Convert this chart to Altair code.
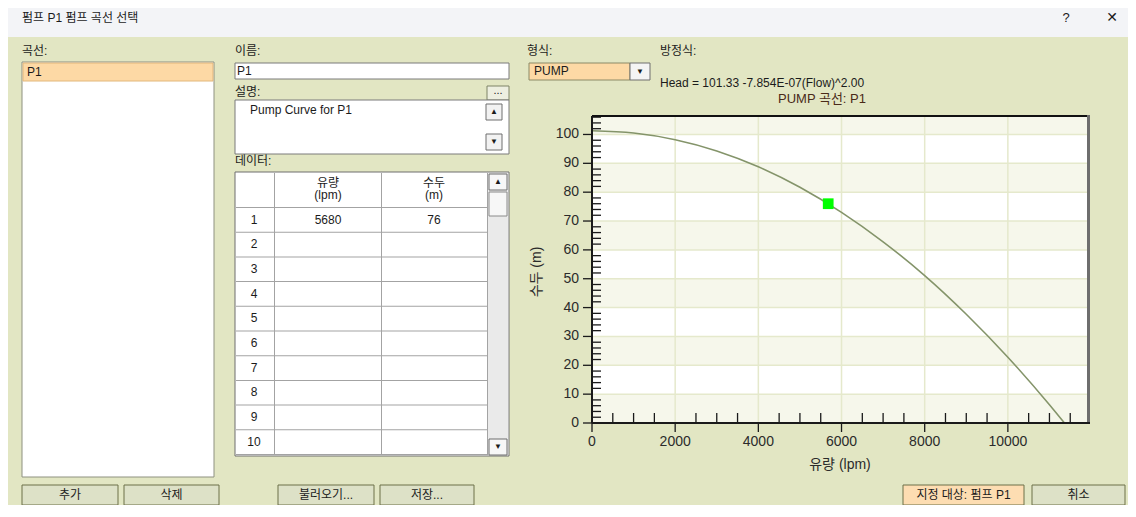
import altair as alt
import pandas as pd

# ---------------- chart values ----------------
flow_curve = [0, 1000, 2000, 3000, 4000, 5000, 6000, 7000, 8000, 9000, 10000, 11000, 11359]
head_curve = [101.3, 100.5, 98.2, 94.3, 88.8, 81.7, 73.0, 62.8, 51.1, 37.7, 22.8, 6.3, 0.0]
flow_points = [5680]
head_points = [76]
x_ticks = [0, 2000, 4000, 6000, 8000, 10000]
y_ticks = [0, 10, 20, 30, 40, 50, 60, 70, 80, 90, 100]
x_max = 11927
y_max = 106.4
row_numbers = [1, 2, 3, 4, 5, 6, 7, 8, 9, 10]

title_text = "PUMP 곡선: P1"
equation_text = "Head = 101.33 -7.854E-07(Flow)^2.00"
x_title = "유량 (lpm)"
y_title = "수두 (m)"
window_title = "펌프 P1 펌프 곡선 선택"

# ---------------- layout ----------------
PX0, PY0 = 592, 116          # plot origin on the page
W, H = 496, 307              # plot area
BG = "#E2E6C3"
FONT = "'Liberation Sans', Arial, 'Noto Sans CJK KR', 'DejaVu Sans', sans-serif"
INK = "#2b2b2b"

rects, texts_l, texts_c = [], [], []


def R(x1, y1, x2, y2, fill, stroke="transparent"):
    rects.append(dict(x1=x1 - PX0, y1=y1 - PY0, x2=x2 - PX0, y2=y2 - PY0,
                      fill=fill, stroke=stroke))


def T(x, y, s, size=12, color="#1b1b1b", align="left"):
    (texts_l if align == "left" else texts_c).append(
        dict(x=x - PX0, y=y - PY0, t=s, size=size, color=color))


# window title bar
R(0, 0, 1136, 37, "#F3F4F7")
T(22, 18, window_title)
T(1066, 18, "?", 13, align="c")
T(1112, 18, "✕", 14, align="c")

# labels
T(22, 51, "곡선:")
T(235, 51, "이름:")
T(527, 51, "형식:")
T(660, 51, "방정식:")
T(235, 92, "설명:")
T(235, 161, "데이터:")

# curve list
R(22, 62, 214, 477, "#FFFFFF", "#8E9180")
R(23, 63, 213, 81, "#FDD9A5", "#E2B77A")
T(27, 72, "P1")

# name / description
R(235, 63, 509, 79, "#FFFFFF", "#7A7A7A")
T(237, 71, "P1")
R(487, 86, 509, 100, "#EDEFE0", "#7F8466")
T(498, 91, "...", 11, align="c")
R(235, 100, 509, 154, "#FFFFFF", "#7A7A7A")
T(250, 110, "Pump Curve for P1")
R(486, 104, 502, 120, "#F2F2F2", "#6E6E6E")
T(494, 112, "▲", 8, align="c")
R(486, 134, 502, 150, "#F2F2F2", "#6E6E6E")
T(494, 142, "▼", 8, align="c")

# data table
ROW_H = 24.7
R(235, 172, 509, 456, "#FFFFFF", "#6E6E6E")
for xv in (274, 381, 487):
    R(xv, 173, xv + 1, 455, "#A3A3A3")
for i in range(len(row_numbers) + 1):
    yv = 207 + i * ROW_H
    R(236, yv, 487, yv + 1, "#A3A3A3")
T(328, 183, "유량", align="c")
T(328, 195, "(lpm)", align="c")
T(434, 183, "수두", align="c")
T(434, 195, "(m)", align="c")
for i, n in enumerate(row_numbers):
    T(254, 219.5 + i * ROW_H, str(n), align="c")
for i, (fq, hd) in enumerate(zip(flow_points, head_points)):
    T(328, 219.5 + i * ROW_H, str(fq), align="c")
    T(434, 219.5 + i * ROW_H, str(hd), align="c")
R(488, 173, 508, 455, "#EAEAEA")
R(489, 174, 507, 190, "#F7F7F7", "#6E6E6E")
T(498, 182, "▲", 8, align="c")
R(489, 192, 507, 216, "#F7F7F7", "#8A8A8A")
R(489, 439, 507, 455, "#F7F7F7", "#6E6E6E")
T(498, 447, "▼", 8, align="c")

# type combo
R(529, 63, 630, 80, "#FDD9A5", "#8C8A66")
T(534, 71, "PUMP")
R(630, 63, 650, 80, "#F4F4F4", "#6E6E6E")
T(640, 72, "▼", 8, align="c")

# equation and chart title
T(660, 83, equation_text, 12)
T(822, 98.5, title_text, 13, "#4A2A18", align="c")

# x axis title (y title rotated below)
T(PX0 + W / 2, 465, x_title, 14, INK, align="c")

# buttons
BTN = "#DDE1C7"
for x1, x2, label, fill in [(22, 118, "추가", BTN), (124, 219, "삭제", BTN),
                            (278, 374, "불러오기...", BTN), (380, 474, "저장...", BTN),
                            (903, 1024, "지정 대상: 펌프 P1", "#FDDDB2"),
                            (1032, 1125, "취소", BTN)]:
    R(x1, 485, x2, 505, fill, "#6C7148")
    T((x1 + x2) / 2, 495, label, 12, align="c")

rect_df = pd.DataFrame(rects)
textl_df = pd.DataFrame(texts_l)
textc_df = pd.DataFrame(texts_c)

chrome_rects = alt.Chart(rect_df).mark_rect(strokeWidth=1).encode(
    x=alt.X("x1:Q", scale=None), x2="x2:Q",
    y=alt.Y("y1:Q", scale=None), y2="y2:Q",
    fill=alt.Fill("fill:N", scale=None),
    stroke=alt.Stroke("stroke:N", scale=None),
)
chrome_text_l = alt.Chart(textl_df).mark_text(align="left", baseline="middle", font=FONT).encode(
    x=alt.X("x:Q", scale=None), y=alt.Y("y:Q", scale=None), text="t:N",
    size=alt.Size("size:Q", scale=None), color=alt.Color("color:N", scale=None),
)
chrome_text_c = alt.Chart(textc_df).mark_text(align="center", baseline="middle", font=FONT).encode(
    x=alt.X("x:Q", scale=None), y=alt.Y("y:Q", scale=None), text="t:N",
    size=alt.Size("size:Q", scale=None), color=alt.Color("color:N", scale=None),
)

one = pd.DataFrame({"a": [0]})
y_title_layer = alt.Chart(one).mark_text(
    text=y_title, angle=270, fontSize=14, font=FONT, color=INK,
    align="center", baseline="middle").encode(
    x=alt.value(537 - PX0), y=alt.value(272 - PY0))

# ---------------- plot ----------------
xs = alt.Scale(domain=[0, x_max], nice=False, zero=True)
ys = alt.Scale(domain=[0, y_max], nice=False, zero=True)

plot_bg = alt.Chart(one).mark_rect(fill="#FFFFFF").encode(
    x=alt.value(0), x2=alt.value(W), y=alt.value(0), y2=alt.value(H))

band_lo = [y for y in y_ticks if (y // 10) % 2 == 0]
band_hi = [min(y + 10, y_max) for y in band_lo]
bands = alt.Chart(pd.DataFrame({"lo": band_lo, "hi": band_hi})).mark_rect(fill="#F6F7EB").encode(
    y=alt.Y("lo:Q", scale=ys, axis=None), y2="hi:Q", x=alt.value(0), x2=alt.value(W))

grid_y = alt.Chart(pd.DataFrame({"g": y_ticks[1:]})).mark_rule(color="#E5E9CC", strokeWidth=1.5).encode(
    y=alt.Y("g:Q", scale=ys, axis=None), x=alt.value(0), x2=alt.value(W))
grid_x = alt.Chart(pd.DataFrame({"g": x_ticks[1:]})).mark_rule(color="#E5E9CC", strokeWidth=1.5).encode(
    x=alt.X("g:Q", scale=xs, axis=None), y=alt.value(0), y2=alt.value(H))

minor_y = [v for v in range(2, 107, 2) if v % 10 != 0]
minor_x = [v for v in range(500, 12000, 500) if v % 2000 != 0]
ticks_y = alt.Chart(pd.DataFrame({"m": minor_y})).mark_rule(color="#1a1a1a", strokeWidth=1.3).encode(
    y=alt.Y("m:Q", scale=ys, axis=None), x=alt.value(0), x2=alt.value(9))
ticks_x = alt.Chart(pd.DataFrame({"m": minor_x})).mark_rule(color="#1a1a1a", strokeWidth=1.3).encode(
    x=alt.X("m:Q", scale=xs, axis=None), y=alt.value(H), y2=alt.value(H - 10))

major_y = alt.Chart(pd.DataFrame({"v": y_ticks})).mark_rule(color="#1a1a1a", strokeWidth=1.3).encode(
    y=alt.Y("v:Q", scale=ys, axis=None), x=alt.value(-9), x2=alt.value(0))
major_x = alt.Chart(pd.DataFrame({"v": x_ticks})).mark_rule(color="#1a1a1a", strokeWidth=1.3).encode(
    x=alt.X("v:Q", scale=xs, axis=None), y=alt.value(H), y2=alt.value(H + 9))

label_y = alt.Chart(pd.DataFrame({"v": y_ticks})).mark_text(
    align="right", baseline="middle", fontSize=14, font=FONT, color=INK).encode(
    y=alt.Y("v:Q", scale=ys, axis=None), x=alt.value(-13), text=alt.Text("v:Q", format="d"))
label_x = alt.Chart(pd.DataFrame({"v": x_ticks})).mark_text(
    align="center", baseline="top", fontSize=14, font=FONT, color=INK).encode(
    x=alt.X("v:Q", scale=xs, axis=None), y=alt.value(H + 12), text=alt.Text("v:Q", format="d"))

curve_df = pd.DataFrame({"flow": flow_curve, "head": head_curve})
curve = alt.Chart(curve_df).mark_line(color="#84946A", strokeWidth=1.6, interpolate="monotone").encode(
    x=alt.X("flow:Q", scale=xs, axis=None),
    y=alt.Y("head:Q", scale=ys, axis=None),
)
pts = alt.Chart(pd.DataFrame({"flow": flow_points, "head": head_points})).mark_square(
    size=115, color="#00FF00", opacity=1).encode(
    x=alt.X("flow:Q", scale=xs, axis=None), y=alt.Y("head:Q", scale=ys, axis=None))

frame_top = alt.Chart(one).mark_rule(color="#111111", strokeWidth=2).encode(
    x=alt.value(0), x2=alt.value(W), y=alt.value(0))
frame_right = alt.Chart(one).mark_rule(color="#6E6E6E", strokeWidth=3).encode(
    x=alt.value(W + 0.5), y=alt.value(-1), y2=alt.value(H))
domain_left = alt.Chart(one).mark_rule(color="#1a1a1a", strokeWidth=2).encode(
    x=alt.value(0), y=alt.value(0), y2=alt.value(H))
domain_bottom = alt.Chart(one).mark_rule(color="#1a1a1a", strokeWidth=2).encode(
    x=alt.value(0), x2=alt.value(W + 2), y=alt.value(H))

chart = alt.layer(
    chrome_rects, chrome_text_l, chrome_text_c, y_title_layer,
    plot_bg, bands, grid_y, grid_x, ticks_y, ticks_x, curve, pts,
    frame_top, frame_right, domain_left, domain_bottom, major_y, major_x, label_y, label_x,
).properties(
    width=W, height=H,
    autosize=alt.AutoSizeParams(type="none"),
    padding={"left": PX0 - 8, "top": PY0 - 8, "right": 40, "bottom": 82},
).configure(background=BG).configure_view(strokeWidth=0)

chart.save("out.html", embed_options={"renderer": "svg", "actions": False})
